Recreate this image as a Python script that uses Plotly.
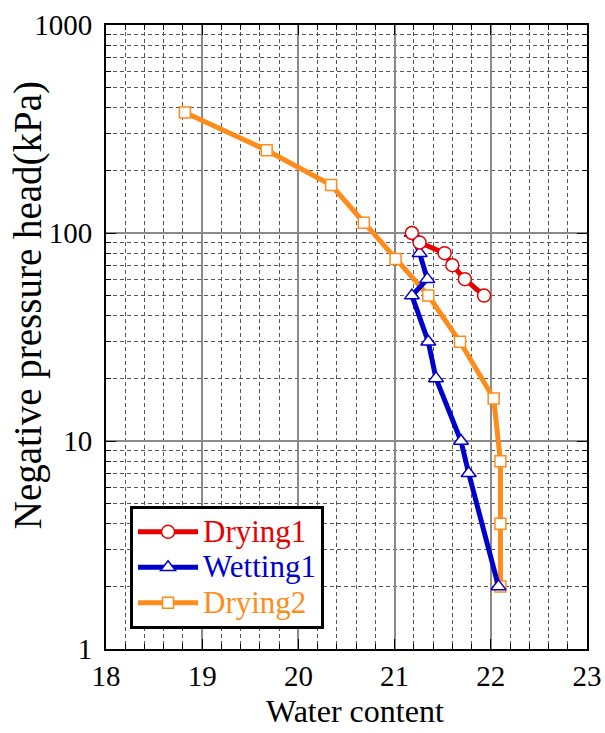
import plotly.graph_objects as go

# Data
drying1_x = [21.18, 21.26, 21.52, 21.60, 21.73, 21.93]
drying1_y = [100, 90, 80, 70, 60, 50]

wetting1_x = [21.18, 21.26, 21.34, 21.18, 21.35, 21.43, 21.69, 21.77, 22.08]
wetting1_y = [100, 80, 60, 50, 30, 20, 10, 7, 2]

drying2_x = [18.82, 19.67, 20.34, 20.68, 21.01, 21.35, 21.68, 22.03, 22.10, 22.10, 22.10]
drying2_y = [380, 250, 170, 112, 75, 50, 30, 16, 8, 4, 2]

y_tickvals = [1, 10, 100, 1000]
y_ticktext = ["1", "10", "100", "1000"]
x_tickvals = [18, 19, 20, 21, 22, 23]

RED = "#e60000"
BLUE = "#0000cc"
ORANGE = "#ff8c1a"
FONT = "Liberation Serif, Times New Roman, serif"


def legend_label(text, color):
    return '<span style="color:%s;font-size:31px">%s</span>' % (color, text)


fig = go.Figure()
fig.add_trace(go.Scatter(
    x=drying2_x, y=drying2_y, mode="lines+markers",
    name=legend_label("Drying2", ORANGE),
    line=dict(color=ORANGE, width=5),
    marker=dict(symbol="square", size=11, color="white", line=dict(color=ORANGE, width=1.5)),
))
fig.add_trace(go.Scatter(
    x=wetting1_x, y=wetting1_y, mode="lines+markers",
    name=legend_label("Wetting1", BLUE),
    line=dict(color=BLUE, width=5),
    marker=dict(symbol="triangle-up", size=13, color="white", line=dict(color=BLUE, width=1.5)),
))
fig.add_trace(go.Scatter(
    x=drying1_x, y=drying1_y, mode="lines+markers",
    name=legend_label("Drying1", RED),
    line=dict(color=RED, width=5),
    marker=dict(symbol="circle", size=13, color="white", line=dict(color=RED, width=1.5)),
))

fig.update_layout(
    width=605, height=733,
    margin=dict(l=106, r=18, t=25, b=84, autoexpand=False),
    paper_bgcolor="white", plot_bgcolor="white",
    font=dict(family=FONT, size=29, color="black"),
    showlegend=True,
    legend=dict(
        x=0.05, y=0.229, xanchor="left", yanchor="top",
        bgcolor="white", bordercolor="black", borderwidth=3,
        font=dict(family=FONT, size=25),
        traceorder="reversed", itemwidth=60, tracegroupgap=0,
    ),
    xaxis=dict(
        range=[18, 23], tickvals=x_tickvals, ticks="inside", ticklen=10, tickwidth=1,
        tickcolor="black", showline=True, linecolor="black", linewidth=2, mirror="ticks",
        showgrid=True, gridcolor="#8a8a8a", gridwidth=1.5, zeroline=False, automargin=False,
        tickfont=dict(family=FONT, size=29), ticklabelstandoff=0,
        minor=dict(dtick=0.2, showgrid=True, gridcolor="#555555", griddash="4px,3px",
                   gridwidth=1, ticks="inside", ticklen=5, tickcolor="black"),
    ),
    yaxis=dict(
        type="log", range=[0, 3], tickvals=y_tickvals, ticktext=y_ticktext,
        ticks="inside", ticklen=10, tickwidth=1, tickcolor="black",
        showline=True, linecolor="black", linewidth=2, mirror="ticks",
        showgrid=True, gridcolor="#8a8a8a", gridwidth=1.5, zeroline=False, automargin=False,
        tickfont=dict(family=FONT, size=29), ticklabelstandoff=6,
        minor=dict(dtick="D1", showgrid=True, gridcolor="#555555", griddash="4px,3px",
                   gridwidth=1, ticks="inside", ticklen=5, tickcolor="black"),
    ),
    annotations=[
        dict(text="Water content", xref="paper", yref="paper", x=0.518, y=-0.1, yanchor="middle",
             showarrow=False, font=dict(family=FONT, size=32)),
        dict(text="Negative pressure head(kPa)", xref="paper", yref="paper",
             x=-0.162, xanchor="center", y=0.551, yanchor="middle", textangle=-90, showarrow=False,
             font=dict(family=FONT, size=39)),
    ],
)

fig.write_html("out.html")
